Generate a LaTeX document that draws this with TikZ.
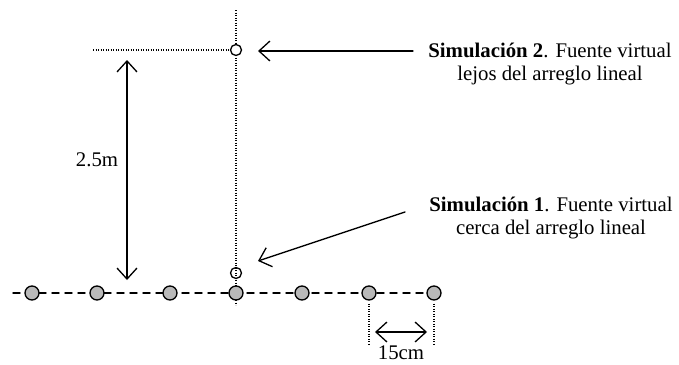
\documentclass[tikz,border=0pt]{standalone}
\usepackage{fontspec}
\setmainfont{Liberation Serif}
\usetikzlibrary{arrows.meta}
\begin{document}
\begin{tikzpicture}[>={Straight Barb[length=11pt,width=20pt]},line join=round,line cap=round,x=1pt,y=-1pt,line width=1.3pt,font=\fontsize{20.8}{23.5}\selectfont]
	\useasboundingbox (0,0) rectangle (679,364);
	\tikzset{
		mic/.style={circle,draw,fill=gray!55,minimum size=14pt,inner sep=0pt},
		src/.style={circle,draw,minimum size=11pt,inner sep=0pt},
		dots/.style={line width=1.2pt,line cap=butt,dash pattern=on 1.2pt off 1.3pt},
		txt/.style={align=center,inner sep=0pt},
	}
	% eje y arreglo lineal
	\coordinate (top) at (236,10);
	\coordinate (bot) at (236,305);
	\coordinate (lft) at (13,293);
	\coordinate (rgt) at (434,293);
	\draw[dots] (top)--(bot);
	\draw[line width=1.4pt,dash pattern=on 7pt off 6pt] (lft)--(rgt);
	\foreach \i/\x in {1/32,2/97,3/170,4/236,5/302,6/369,7/434}
		\node[mic] (m\i) at (\x,293) {};
	% fuentes virtuales
	\node[src,fill=white] (f2) at (236,50) {};
	\node[src] (f1) at (236,273) {};
	\coordinate (h0) at (93,50);
	\draw[dots] (h0)--(f2.west);
	% distancia 2.5m
	\coordinate (d1) at (127,60);
	\coordinate (d2) at (127,280);
	\draw[<->] (d1)--(d2);
	\node (dist) at (97,160) {2.5m};
	% textos
	\node[txt] (s2) at (550,64) {\textbf{Simulación 2}. Fuente virtual\\lejos del arreglo lineal};
	\node[txt] (s1) at (551,218) {\textbf{Simulación 1}. Fuente virtual\\cerca del arreglo lineal};
	\coordinate (t2) at (413,51);
	\coordinate (p2) at (258,51);
	\coordinate (t1) at (405,212);
	\coordinate (p1) at (258,261);
	\draw[->] (t2)--(p2);
	\draw[->] (t1)--(p1);
	% separacion 15cm
	\draw[dots] (m6.south)++(0,3)--++(0,41)
	(m7.south)++(0,3)--++(0,41);
	\coordinate (e1) at (375,332);
	\coordinate (e2) at (427,332);
	\draw[<->] (e1)--(e2);
	\node[inner sep=1pt] (sep) at (401,353) {15cm};
\end{tikzpicture}
\end{document}
